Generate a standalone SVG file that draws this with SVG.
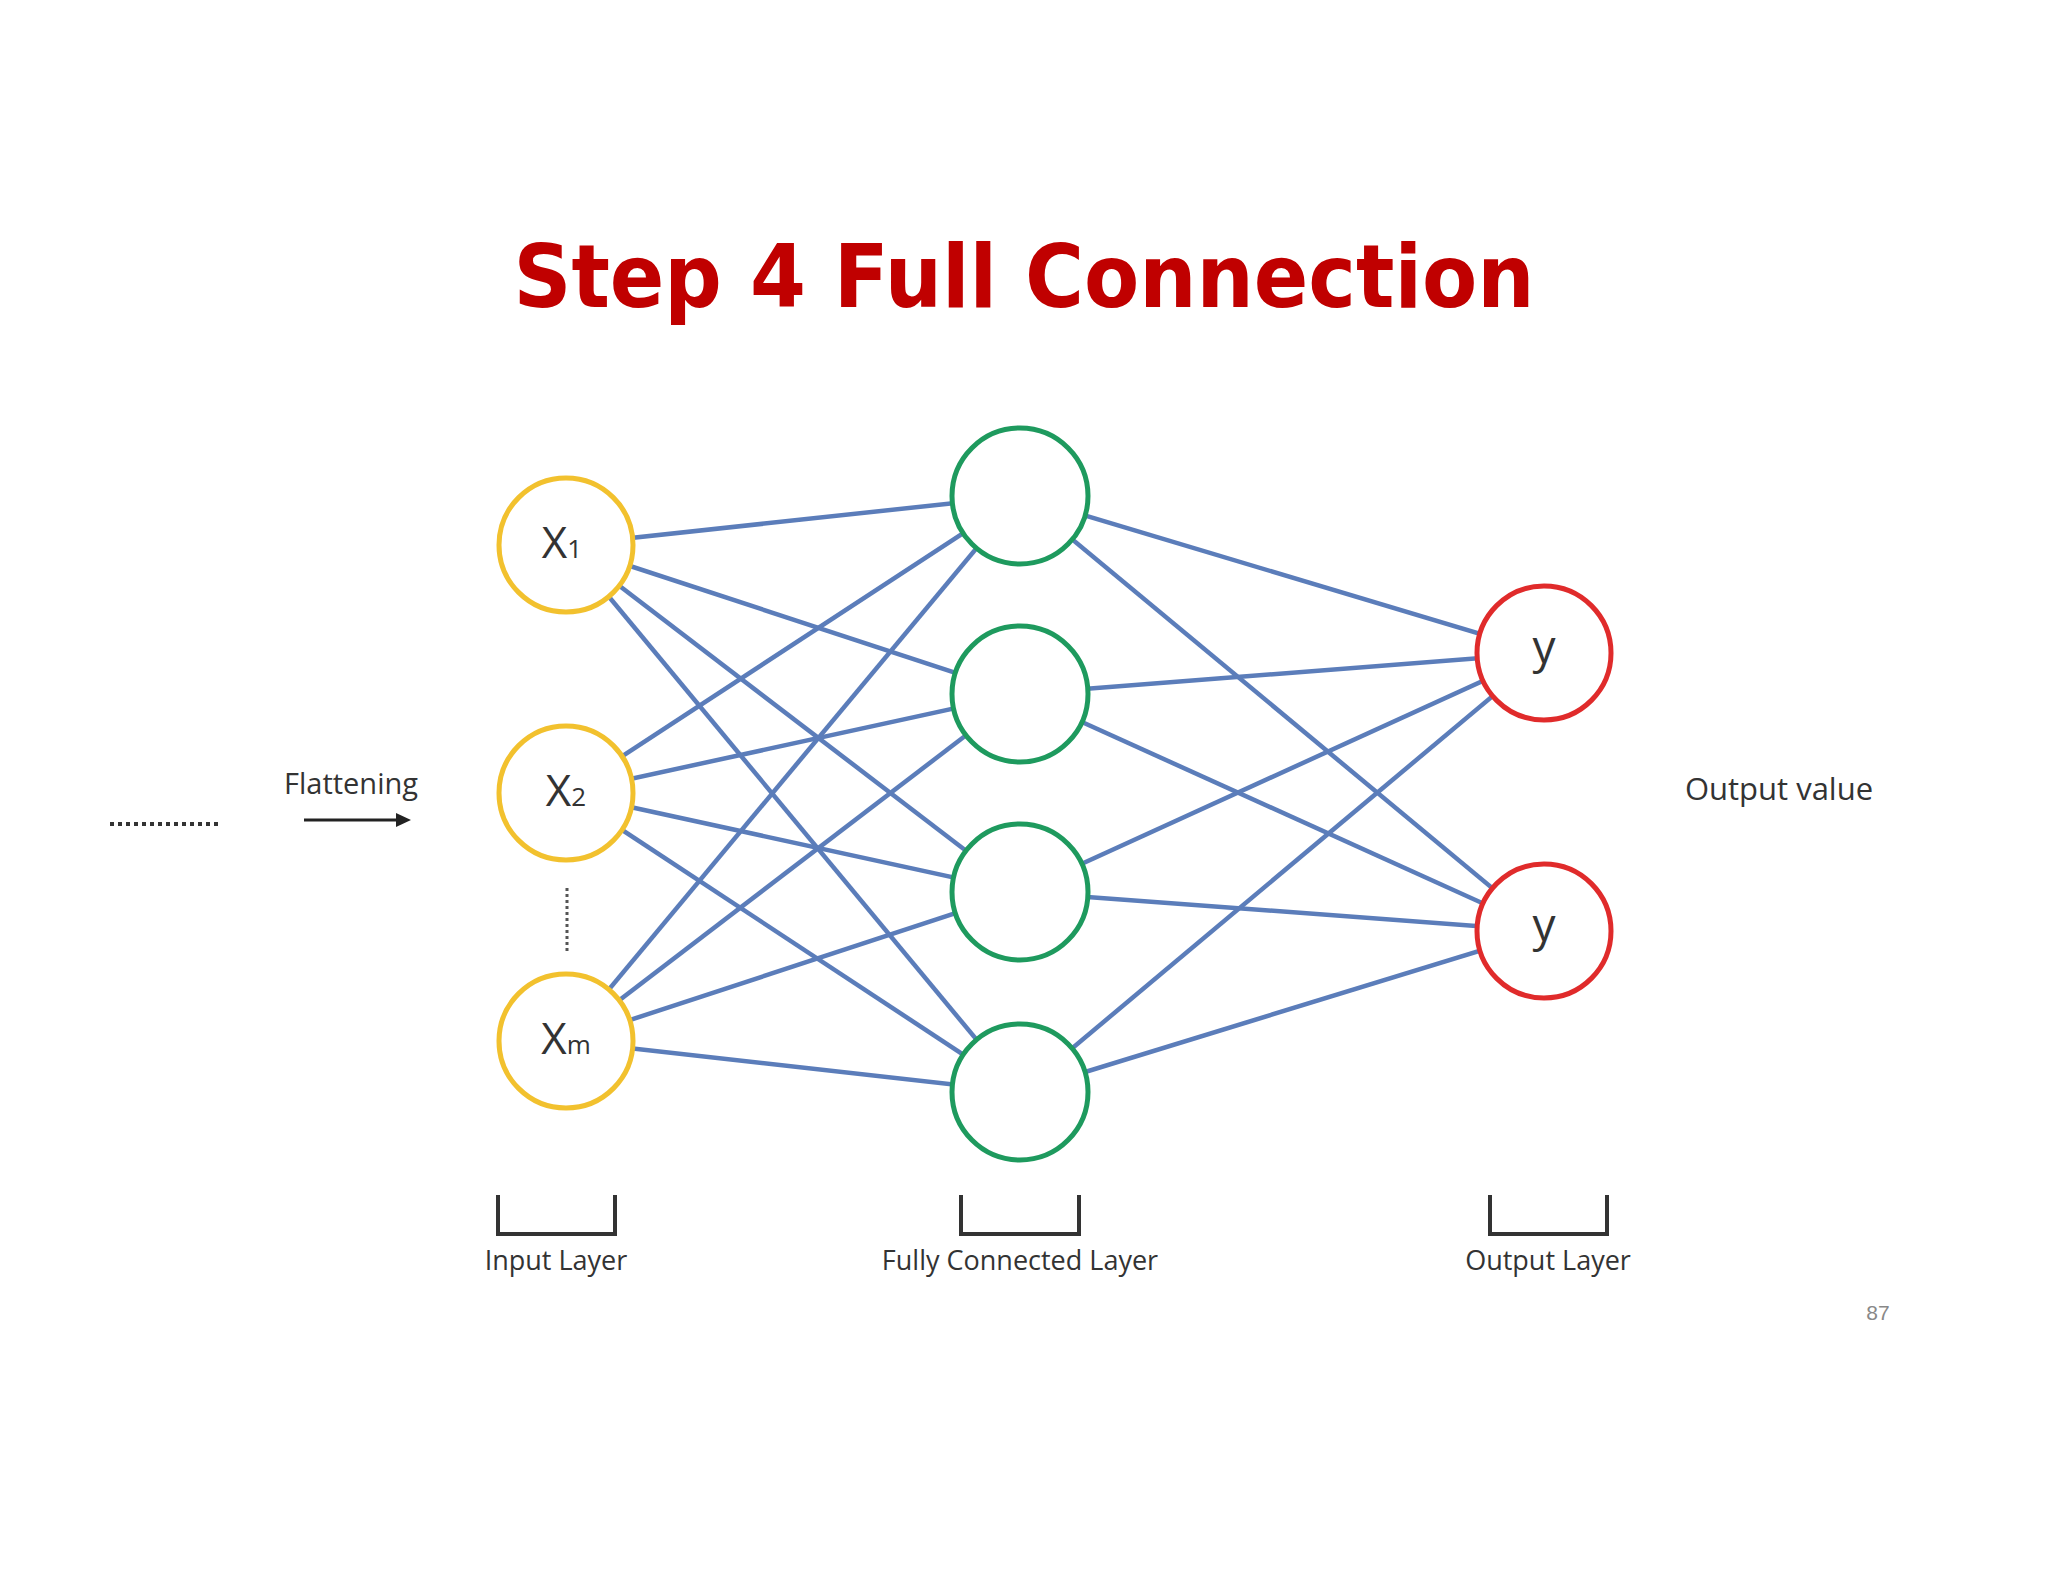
<svg xmlns="http://www.w3.org/2000/svg" width="2048" height="1582" viewBox="0 0 2048 1582">
<style>
.e{stroke:#5B7DBA;stroke-width:4.5;fill:none}
.in{fill:#fff;stroke:#F2C12E;stroke-width:5}
.hd{fill:#fff;stroke:#1E9A5E;stroke-width:5}
.out{fill:#fff;stroke:#E02B2B;stroke-width:5}
.t{font-family:"Open Sans","Liberation Sans",sans-serif;fill:#333}
.br{fill:none;stroke:#333;stroke-width:4}
</style>
<rect width="2048" height="1582" fill="#fff"/>
<text x="1024" y="307" text-anchor="middle" font-family="'DejaVu Sans',sans-serif" font-weight="bold" font-size="88" fill="#C00000" textLength="1021" lengthAdjust="spacingAndGlyphs">Step 4 Full Connection</text>
<g id="connectors">
<line class="e" x1="566" y1="545" x2="1020" y2="496"/><line class="e" x1="566" y1="545" x2="1020" y2="694"/><line class="e" x1="566" y1="545" x2="1020" y2="892"/><line class="e" x1="566" y1="545" x2="1020" y2="1092"/>
<line class="e" x1="566" y1="793" x2="1020" y2="496"/><line class="e" x1="566" y1="793" x2="1020" y2="694"/><line class="e" x1="566" y1="793" x2="1020" y2="892"/><line class="e" x1="566" y1="793" x2="1020" y2="1092"/>
<line class="e" x1="566" y1="1041" x2="1020" y2="496"/><line class="e" x1="566" y1="1041" x2="1020" y2="694"/><line class="e" x1="566" y1="1041" x2="1020" y2="892"/><line class="e" x1="566" y1="1041" x2="1020" y2="1092"/>
<line class="e" x1="1020" y1="496" x2="1544" y2="653"/><line class="e" x1="1020" y1="496" x2="1544" y2="931"/>
<line class="e" x1="1020" y1="694" x2="1544" y2="653"/><line class="e" x1="1020" y1="694" x2="1544" y2="931"/>
<line class="e" x1="1020" y1="892" x2="1544" y2="653"/><line class="e" x1="1020" y1="892" x2="1544" y2="931"/>
<line class="e" x1="1020" y1="1092" x2="1544" y2="653"/><line class="e" x1="1020" y1="1092" x2="1544" y2="931"/>
<line x1="110" y1="824" x2="222" y2="824" stroke="#333" stroke-width="4" stroke-dasharray="4,4"/>
<line x1="304" y1="820" x2="400" y2="820" stroke="#222" stroke-width="3"/>
<polygon points="411,820 396,813 396,827" fill="#222"/>
<line x1="567" y1="888" x2="567" y2="951" stroke="#555" stroke-width="3" stroke-dasharray="3,3"/>
</g>
<g id="x1"><circle class="in" cx="566" cy="545" r="67"/><text class="t" x="562" y="558" text-anchor="middle" font-size="44">X<tspan font-size="26">1</tspan></text></g>
<g id="x2"><circle class="in" cx="566" cy="793" r="67"/><text class="t" x="566" y="806" text-anchor="middle" font-size="44">X<tspan font-size="26">2</tspan></text></g>
<g id="xm"><circle class="in" cx="566" cy="1041" r="67"/><text class="t" x="566" y="1054" text-anchor="middle" font-size="44">X<tspan font-size="26">m</tspan></text></g>
<g id="h1"><circle class="hd" cx="1020" cy="496" r="68"/></g>
<g id="h2"><circle class="hd" cx="1020" cy="694" r="68"/></g>
<g id="h3"><circle class="hd" cx="1020" cy="892" r="68"/></g>
<g id="h4"><circle class="hd" cx="1020" cy="1092" r="68"/></g>
<g id="y1"><circle class="out" cx="1544" cy="653" r="67"/><text class="t" x="1544" y="663" text-anchor="middle" font-size="46">y</text></g>
<g id="y2"><circle class="out" cx="1544" cy="931" r="67"/><text class="t" x="1544" y="941" text-anchor="middle" font-size="46">y</text></g>
<text class="t" x="351" y="794" text-anchor="middle" font-size="29">Flattening</text>
<text class="t" x="1779" y="800" text-anchor="middle" font-size="31">Output value</text>
<path class="br" d="M498,1195 V1234 H615 V1195"/>
<path class="br" d="M961,1195 V1234 H1079 V1195"/>
<path class="br" d="M1490,1195 V1234 H1607 V1195"/>
<text class="t" x="556" y="1270" text-anchor="middle" font-size="27">Input Layer</text>
<text class="t" x="1020" y="1270" text-anchor="middle" font-size="27">Fully Connected Layer</text>
<text class="t" x="1548" y="1270" text-anchor="middle" font-size="27">Output Layer</text>
<text x="1878" y="1320" text-anchor="middle" font-family="'Liberation Sans',sans-serif" font-size="21" fill="#888">87</text>
</svg>
